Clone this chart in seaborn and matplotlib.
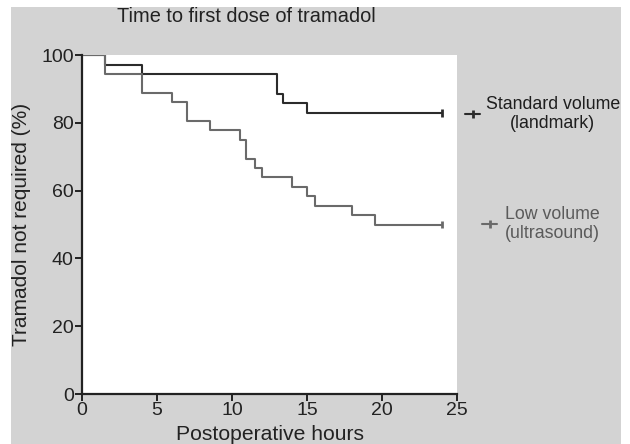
import matplotlib
matplotlib.use("Agg")
import matplotlib.pyplot as plt
import matplotlib.patches as mpatches
from matplotlib.lines import Line2D
import pandas as pd
import seaborn as sns

# Kaplan-Meier steps
std_hours = [0, 1.5, 4, 13, 13.4, 15, 24]
std_pct = [100, 97.1, 94.3, 88.6, 85.7, 82.9, 82.9]

low_hours = [0, 1.5, 4, 6, 7, 8.5, 10.5, 10.9, 11.5, 12, 14, 15, 15.5, 18, 19.5, 24]
low_pct = [100, 94.4, 88.9, 86.1, 80.6, 77.8, 75.0, 69.4, 66.7, 63.9, 61.1, 58.3, 55.6, 52.8, 50.0, 50.0]

group_names = ["Standard volume\n(landmark)", "Low volume\n(ultrasound)"]
group_colors = ["#2b2b2b", "#6a6a6a"]
text_colors = ["#1e1e1e", "#5a5a5a"]

x_ticks = [0, 5, 10, 15, 20, 25]
y_ticks = [0, 20, 40, 60, 80, 100]

sns.set_style("ticks")
plt.rcParams["font.family"] = ["Liberation Sans", "DejaVu Sans"]

df = pd.concat([
    pd.DataFrame({"hours": std_hours, "pct": std_pct, "group": group_names[0]}),
    pd.DataFrame({"hours": low_hours, "pct": low_pct, "group": group_names[1]}),
])
# censored at the last time point
df_cens = df.groupby("group", sort=False).tail(1)

fig = plt.figure(figsize=(6.3, 4.44), dpi=100)
fig.patch.set_facecolor("white")
# grey panel behind everything
fig.add_artist(mpatches.Rectangle((11 / 630, 0), 610 / 630, 437 / 444,
                                  transform=fig.transFigure, facecolor="#d3d3d3",
                                  edgecolor="none", zorder=-10))

ax = fig.add_axes([82 / 630, 50 / 444, 375 / 630, 339 / 444])
ax.set_facecolor("white")

palette = dict(zip(group_names, group_colors))
sns.lineplot(data=df, x="hours", y="pct", hue="group", palette=palette,
             estimator=None, sort=False, drawstyle="steps-post",
             linewidth=1.5, legend=False, ax=ax)
sns.scatterplot(data=df_cens, x="hours", y="pct", hue="group", palette=palette,
                marker="|", s=30, linewidth=2, legend=False, ax=ax, zorder=5)

ax.set_xlim(0, 25)
ax.set_ylim(0, 100)
ax.set_xticks(x_ticks)
ax.set_yticks(y_ticks)
for side in ["top", "right"]:
    ax.spines[side].set_visible(False)
for side in ["left", "bottom"]:
    ax.spines[side].set_linewidth(1.6)
    ax.spines[side].set_color("#222222")
ax.tick_params(axis="both", length=5, width=1.4, color="#222222",
               labelsize=14, labelcolor="#222222", pad=1)
ax.set_xlabel("Postoperative hours", fontsize=15.2, color="#222222", labelpad=4)
ax.set_ylabel("Tramadol not required (%)", fontsize=15, color="#222222", labelpad=7)

fig.text(246 / 630, 1 - 17 / 444, "Time to first dose of tramadol", fontsize=14.4,
         color="#222222", ha="center", va="center")

# legends, one per group, sitting outside the axes
leg_pos = [(465 / 630, 1 - 114 / 444), (482 / 630, 1 - 224 / 444)]
leg_pad = [0.32, 0.45]
for name, col, tcol, pos, pad in zip(group_names, group_colors, text_colors, leg_pos, leg_pad):
    h = Line2D([0], [0], color=col, linewidth=1.5, marker="|", markersize=6,
               markeredgewidth=2)
    leg = fig.legend(handles=[h], labels=[name], loc="center left",
                     bbox_to_anchor=pos, frameon=False, fontsize=12.8,
                     handlelength=0.85, handletextpad=pad, borderpad=0,
                     borderaxespad=0)
    t = leg.get_texts()[0]
    t.set_color(tcol)
    t.set_multialignment("center")

fig.savefig("out.png", dpi=100)
